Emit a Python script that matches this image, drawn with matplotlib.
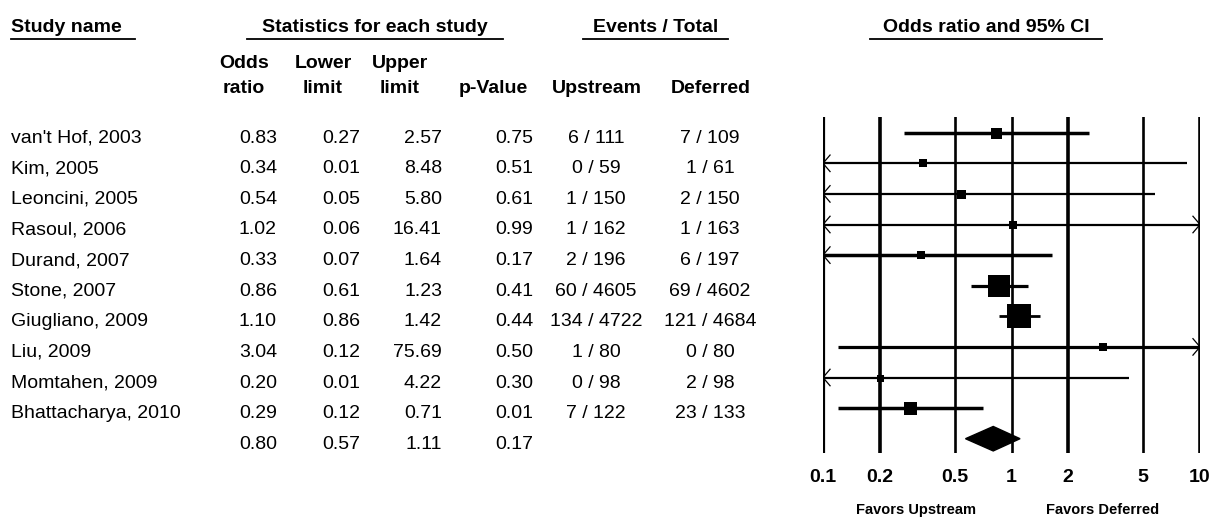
import numpy as np
import matplotlib
matplotlib.use("Agg")
import matplotlib.pyplot as plt

plt.rcParams["font.family"] = ["Liberation Sans", "DejaVu Sans"]

# ── Data ──────────────────────────────────────────────────────────────────────
studies = ["van't Hof, 2003", "Kim, 2005", "Leoncini, 2005", "Rasoul, 2006",
           "Durand, 2007", "Stone, 2007", "Giugliano, 2009", "Liu, 2009",
           "Momtahen, 2009", "Bhattacharya, 2010"]
odds  = [0.83, 0.34, 0.54, 1.02, 0.33, 0.86, 1.10, 3.04, 0.20, 0.29]
lower = [0.27, 0.01, 0.05, 0.06, 0.07, 0.61, 0.86, 0.12, 0.01, 0.12]
upper = [2.57, 8.48, 5.80, 16.41, 1.64, 1.23, 1.42, 75.69, 4.22, 0.71]
pvals = [0.75, 0.51, 0.61, 0.99, 0.17, 0.41, 0.44, 0.50, 0.30, 0.01]
upstream = ["6 / 111", "0 / 59", "1 / 150", "1 / 162", "2 / 196", "60 / 4605",
            "134 / 4722", "1 / 80", "0 / 98", "7 / 122"]
deferred = ["7 / 109", "1 / 61", "2 / 150", "1 / 163", "6 / 197", "69 / 4602",
            "121 / 4684", "0 / 80", "2 / 98", "23 / 133"]
pooled = (0.80, 0.57, 1.11, 0.17)
ticks = [0.1, 0.2, 0.5, 1, 2, 5, 10]
tick_labels = ["0.1", "0.2", "0.5", "1", "2", "5", "10"]

# marker side lengths (px), weight-like
box_px = [11, 8, 9, 8, 8, 23, 24, 8, 7, 13]

W, H = 1212, 519
fig = plt.figure(figsize=(W / 100, H / 100), dpi=100)

# text layer in pixel coordinates
tx = fig.add_axes([0, 0, 1, 1])
tx.set_xlim(0, W); tx.set_ylim(H, 0); tx.axis("off")

row0, step = 132.7, 30.6
def row_y(i):
    return row0 + i * step

fs = 14
fsh = 14
# group headers with underline
for label, x0, x1, ha in [("Study name", 11, 135, "left"),
                          ("Statistics for each study", 247, 503, "center"),
                          ("Events / Total", 583, 728, "center"),
                          ("Odds ratio and 95% CI", 870, 1102, "center")]:
    xt = x0 if ha == "left" else (x0 + x1) / 2
    tx.text(xt, 32, label, ha=ha, va="baseline", fontsize=fsh, fontweight="bold")
    tx.plot([x0, x1], [38.5, 38.5], color="black", lw=1.3)

col_heads = [("Odds", "ratio", 244), ("Lower", "limit", 323), ("Upper", "limit", 400),
             ("", "p-Value", 493), ("", "Upstream", 597), ("", "Deferred", 711)]
for l1, l2, xc in col_heads:
    if l1:
        tx.text(xc, 68, l1, ha="center", va="baseline", fontsize=fsh,
                fontweight="bold")
    tx.text(xc, 93, l2, ha="center", va="baseline", fontsize=fsh,
            fontweight="bold")

col_right = [277, 360, 442, 533]
for i, name in enumerate(studies):
    yb = row_y(i) + 10
    tx.text(11, yb, name, ha="left", va="baseline", fontsize=fs)
    vals = [f"{odds[i]:.2f}", f"{lower[i]:.2f}", f"{upper[i]:.2f}",
            f"{pvals[i]:.2f}"]
    for xr, v in zip(col_right, vals):
        tx.text(xr, yb, v, ha="right", va="baseline", fontsize=fs)
    tx.text(596, yb, upstream[i], ha="center", va="baseline", fontsize=fs)
    tx.text(710, yb, deferred[i], ha="center", va="baseline", fontsize=fs)
yb = row_y(10) + 10
for xr, v in zip(col_right, pooled):
    tx.text(xr, yb, f"{v:.2f}", ha="right", va="baseline", fontsize=fs)

# ── Forest plot ───────────────────────────────────────────────────────────────
px_left, px_right, px_top, px_bot = 823, 1200, 117, 453
ax = fig.add_axes([px_left / W, 1 - px_bot / H,
                   (px_right - px_left) / W, (px_bot - px_top) / H])
ax.set_xscale("log")
ax.set_xlim(0.1, 10)
ax.set_ylim((px_bot - row0) / step, (px_top - row0) / step)
ax.axis("off")

line_w = {0.1: 2.3, 0.2: 2.6, 0.5: 1.9, 1: 1.9, 2: 2.6, 5: 1.9, 10: 2.6}
for t in ticks:
    ax.axvline(t, color="black", lw=line_w[t], zorder=1)

ci_w = [2.5, 1.6, 1.6, 1.6, 2.5, 2.3, 2.0, 2.3, 1.6, 2.5]
for i in range(len(studies)):
    lo, hi = max(lower[i], 0.1), min(upper[i], 10)
    ax.plot([lo, hi], [i, i], color="black", lw=ci_w[i], zorder=2,
            solid_capstyle="butt")
    if lower[i] < 0.1:
        ax.plot([0.1 * 1.09, 0.1, 0.1 * 1.09], [i - 0.27, i, i + 0.27],
                color="black", lw=0.9, zorder=3)
    if upper[i] > 10:
        ax.plot([10 / 1.09, 10, 10 / 1.09], [i - 0.27, i, i + 0.27],
                color="black", lw=0.9, zorder=3)
    ax.plot(odds[i], i, marker="s", color="black", ms=box_px[i] * 0.72,
            mew=0, zorder=4)

# pooled diamond
d_or, d_lo, d_hi, _ = pooled
ax.fill([d_lo, d_or, d_hi, d_or], [10, 10 - 0.4, 10, 10 + 0.4],
        color="black", zorder=4)

for t, lab in zip(ticks, tick_labels):
    xp = px_left + (np.log10(t) + 1) / 2 * (px_right - px_left)
    tx.text(xp, 482, lab, ha="center", va="baseline", fontsize=14,
            fontweight="bold")

tx.text(916, 514, "Favors Upstream", ha="center", va="baseline", fontsize=10.5,
        fontweight="bold")
tx.text(1103, 514, "Favors Deferred", ha="center", va="baseline", fontsize=10.5,
        fontweight="bold")

fig.savefig("out.png", dpi=100)
